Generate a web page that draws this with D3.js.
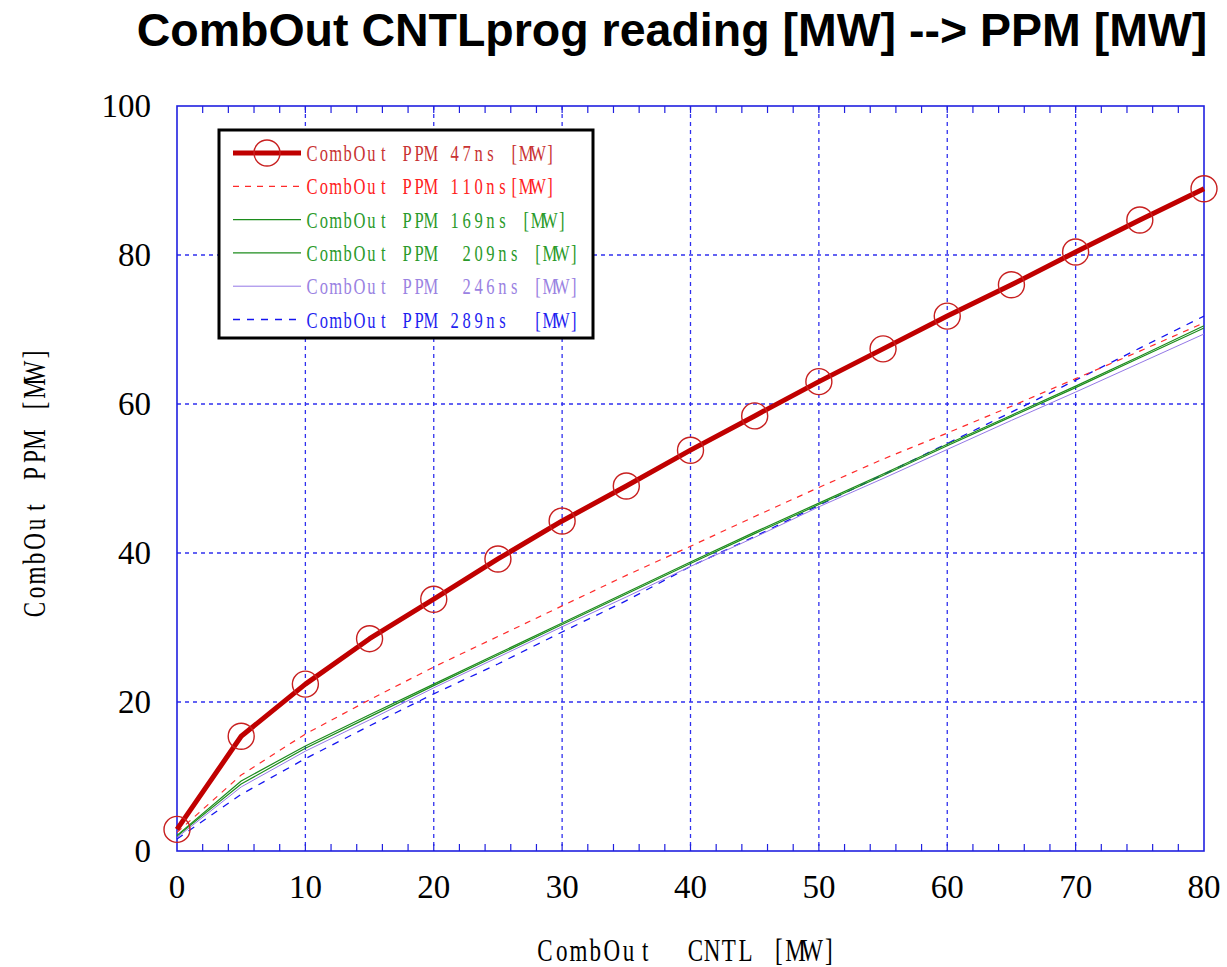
<!DOCTYPE html>
<html>
<head>
<meta charset="utf-8">
<script src="https://cdn.jsdelivr.net/npm/d3@7"></script>
<style>
  body { margin: 0; background: #fff; }
  svg { display: block; }
  .serif { font-family: "Liberation Serif", "DejaVu Serif", serif; }
</style>
</head>
<body>
<svg width="1227" height="967"></svg>
<script>
// values
const xValues = [0, 5, 10, 15, 20, 25, 30, 35, 40, 45, 50, 55, 60, 65, 70, 75, 80];
const ppm47  = [2.9, 15.4, 22.4, 28.5, 33.8, 39.2, 44.3, 49.0, 53.8, 58.4, 63.0, 67.4, 71.8, 76.0, 80.4, 84.7, 88.9];
const ppm110 = [2.5, 10.2, 15.7, 20.3, 24.7, 28.8, 32.9, 37.0, 40.9, 44.9, 48.8, 52.6, 56.1, 59.7, 63.4, 67.1, 70.9];
const ppm169 = [2.1, 9.4, 14.1, 18.3, 22.4, 26.5, 30.6, 34.7, 38.8, 42.8, 46.7, 50.6, 54.6, 58.5, 62.4, 66.4, 70.5];
const ppm209 = [2.0, 9.0, 13.8, 18.0, 22.2, 26.3, 30.4, 34.5, 38.6, 42.6, 46.5, 50.4, 54.4, 58.3, 62.2, 66.2, 70.2];
const ppm246 = [1.8, 8.6, 13.4, 17.6, 21.9, 26.0, 30.1, 34.1, 38.2, 42.1, 46.2, 50.0, 53.9, 57.8, 61.6, 65.5, 69.4];
const ppm289 = [1.6, 7.6, 12.4, 16.8, 21.1, 25.1, 29.4, 33.6, 38.2, 42.2, 46.4, 50.5, 54.7, 58.9, 63.2, 67.5, 71.8];

const xTicks = [0, 10, 20, 30, 40, 50, 60, 70, 80];
const yTicks = [0, 20, 40, 60, 80, 100];
const legendLabels = [
    "CombOut PPM 47ns [MW]",
    "CombOut PPM 110ns[MW]",
    "CombOut PPM 169ns [MW]",
    "CombOut PPM  209ns [MW]",
    "CombOut PPM  246ns [MW]",
    "CombOut PPM 289ns  [MW]"
];

const series = [
    { values: ppm47,  stroke: "#c00000", width: 5,   dash: null,  text: "#c83232", marker: true },
    { values: ppm110, stroke: "#ff2a2a", width: 1.2, dash: "6,6", text: "#ff2020" },
    { values: ppm169, stroke: "#1c8c1c", width: 1.2, dash: null,  text: "#2a9a2a" },
    { values: ppm209, stroke: "#1c8c1c", width: 1.2, dash: null,  text: "#2a9a2a" },
    { values: ppm246, stroke: "#9478e6", width: 1,   dash: null,  text: "#9a82e2" },
    { values: ppm289, stroke: "#1414f0", width: 1.3, dash: "7,7", text: "#1e1ef0" }
];

const svg = d3.select("svg");
const plotLeft = 177, plotRight = 1204, plotTop = 106, plotBottom = 851;

const x = d3.scaleLinear().domain([0, 80]).range([plotLeft, plotRight]);
const y = d3.scaleLinear().domain([0, 100]).range([plotBottom, plotTop]);

// fixed-width cells, each glyph centred in its cell (like the mincho font of the original)
function monoText(g, str, x0, y0, col, size, sx, color, anchor) {
    const n = str.length;
    let start = x0;
    if (anchor === "middle") start = x0 - n * col / 2;
    const xs = d3.range(n).map(i => (((i + 0.5) * col) / sx).toFixed(2)).join(" ");
    return g.append("text")
        .attr("class", "serif")
        .attr("transform", "translate(" + start + "," + y0 + ") scale(" + sx + ",1)")
        .attr("x", xs)
        .attr("y", 0)
        .attr("text-anchor", "middle")
        .attr("font-size", size)
        .attr("fill", color)
        .attr("xml:space", "preserve")
        .text(str);
}

// title
svg.append("text")
    .attr("x", 672)
    .attr("y", 46)
    .attr("text-anchor", "middle")
    .attr("font-family", "'Liberation Sans', Arial, sans-serif")
    .attr("font-weight", "bold")
    .attr("font-size", 46.5)
    .attr("fill", "#000")
    .text("CombOut CNTLprog reading [MW] --> PPM [MW]");

// grid
const grid = svg.append("g");
grid.selectAll(".gx")
    .data(xTicks.filter(d => d > 0 && d < 80))
    .enter()
    .append("line")
    .attr("x1", d => x(d)).attr("x2", d => x(d))
    .attr("y1", plotTop).attr("y2", plotBottom)
    .attr("stroke", "#3030ee")
    .attr("stroke-width", 1.3)
    .attr("stroke-dasharray", "4,4");
grid.selectAll(".gy")
    .data(yTicks.filter(d => d > 0 && d < 100))
    .enter()
    .append("line")
    .attr("x1", plotLeft).attr("x2", plotRight)
    .attr("y1", d => y(d)).attr("y2", d => y(d))
    .attr("stroke", "#3030ee")
    .attr("stroke-width", 1.3)
    .attr("stroke-dasharray", "4,4");

// minor ticks on top and bottom
const minor = d3.range(2, 80, 2);
svg.append("g").selectAll("line")
    .data(minor)
    .enter()
    .append("line")
    .attr("x1", d => x(d)).attr("x2", d => x(d))
    .attr("y1", plotBottom).attr("y2", plotBottom - 7)
    .attr("stroke", "#2020e0").attr("stroke-width", 1.2);
svg.append("g").selectAll("line")
    .data(minor)
    .enter()
    .append("line")
    .attr("x1", d => x(d)).attr("x2", d => x(d))
    .attr("y1", plotTop).attr("y2", plotTop + 7)
    .attr("stroke", "#2020e0").attr("stroke-width", 1.2);

// frame
svg.append("rect")
    .attr("x", plotLeft).attr("y", plotTop)
    .attr("width", plotRight - plotLeft).attr("height", plotBottom - plotTop)
    .attr("fill", "none")
    .attr("stroke", "#2020e0")
    .attr("stroke-width", 1.6);

// tick labels
const labels = svg.append("g");
labels.selectAll(".xl")
    .data(xTicks)
    .enter()
    .append("text")
    .attr("class", "serif")
    .attr("x", d => x(d))
    .attr("y", 898)
    .attr("text-anchor", "middle")
    .attr("font-size", 33)
    .text(d => d);
labels.selectAll(".yl")
    .data(yTicks)
    .enter()
    .append("text")
    .attr("class", "serif")
    .attr("x", 151)
    .attr("y", d => y(d) + 11)
    .attr("text-anchor", "end")
    .attr("font-size", 33)
    .text(d => d);

// axis titles
monoText(svg, "CombOut  CNTL [MW]", 687, 961, 16.7, 32, 0.72, "#000", "middle");
const yTitle = svg.append("g").attr("transform", "translate(45,482) rotate(-90)");
monoText(yTitle, "CombOut PPM [MW]", 0, 0, 17, 32, 0.72, "#000", "middle");

// series lines
const line = d3.line()
    .x((d, i) => x(xValues[i]))
    .y(d => y(d));

const plot = svg.append("g");
series.slice().reverse().forEach(s => {
    plot.append("path")
        .datum(s.values)
        .attr("d", line)
        .attr("fill", "none")
        .attr("stroke", s.stroke)
        .attr("stroke-width", s.width)
        .attr("stroke-dasharray", s.dash)
        .attr("stroke-linejoin", "round");
});

// markers on the 47ns series
plot.selectAll(".marker")
    .data(ppm47)
    .enter()
    .append("circle")
    .attr("cx", (d, i) => x(xValues[i]))
    .attr("cy", d => y(d))
    .attr("r", 13)
    .attr("fill", "none")
    .attr("stroke", "#c82020")
    .attr("stroke-width", 1.4);

// legend
const legend = svg.append("g");
legend.append("rect")
    .attr("x", 219).attr("y", 130)
    .attr("width", 374).attr("height", 208)
    .attr("fill", "#fff")
    .attr("stroke", "#000")
    .attr("stroke-width", 3);

series.forEach((s, i) => {
    const ly = 153 + i * 33.3;
    legend.append("line")
        .attr("x1", 233).attr("x2", 301)
        .attr("y1", ly).attr("y2", ly)
        .attr("stroke", s.stroke)
        .attr("stroke-width", s.width)
        .attr("stroke-dasharray", s.dash);
    if (s.marker) {
        legend.append("circle")
            .attr("cx", 267).attr("cy", ly)
            .attr("r", 13)
            .attr("fill", "none")
            .attr("stroke", "#c82020")
            .attr("stroke-width", 1.4);
    }
    monoText(legend, legendLabels[i], 306, ly + 8, 11.9, 23, 0.72, s.text, "start");
});
</script>
</body>
</html>
